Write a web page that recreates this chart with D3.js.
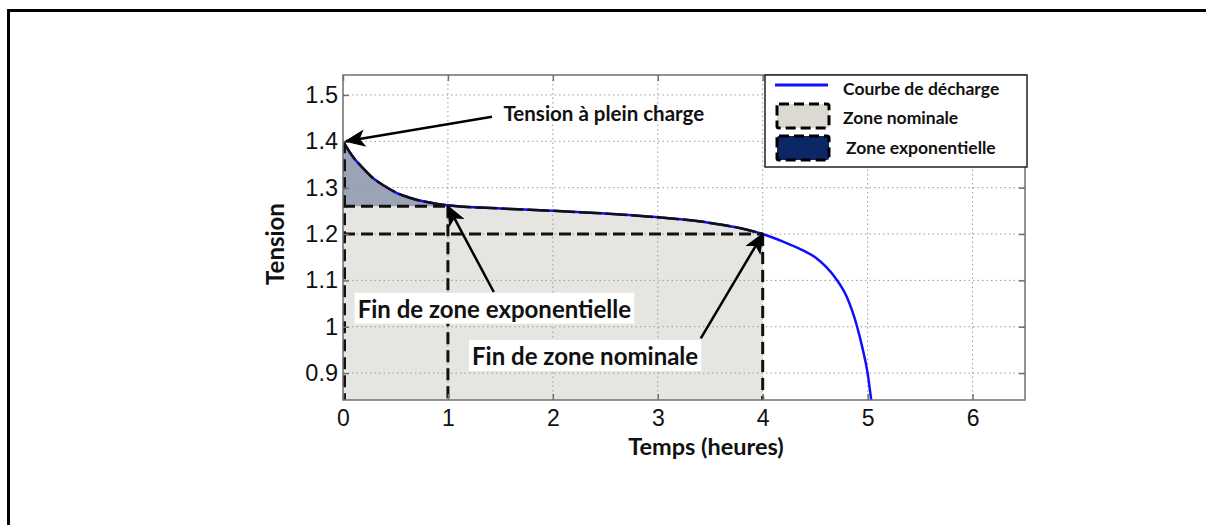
<!DOCTYPE html>
<html>
<head>
<meta charset="utf-8">
<script src="https://cdn.jsdelivr.net/npm/d3@7"></script>
<style>
  html, body { margin: 0; padding: 0; background: #fff; }
  svg { display: block; }
</style>
</head>
<body>
<svg id="chart" width="1206" height="525"></svg>
<script>
// Discharge curve of the cell: time (hours) and voltage
const temps =   [0, 0.1, 0.2, 0.3, 0.4, 0.5, 0.6, 0.7, 0.8, 0.9, 1.0, 1.5, 2.0, 2.5, 3.0, 3.5, 3.8, 4.0, 4.2, 4.4, 4.5, 4.6, 4.7, 4.8, 4.9, 4.95, 5.0, 5.034];
const tension = [1.400, 1.365, 1.340, 1.318, 1.303, 1.290, 1.281, 1.274, 1.269, 1.265, 1.262, 1.255, 1.250, 1.244, 1.236, 1.224, 1.212, 1.200, 1.183, 1.163, 1.150, 1.130, 1.103, 1.065, 1.000, 0.955, 0.900, 0.842];

// Characteristic points
const pleineCharge = { t: 0, v: 1.40 };
const finExpo = { t: 1, v: 1.26 };
const finNominale = { t: 4, v: 1.20 };

// Axis ticks
const xTicks = [0, 1, 2, 3, 4, 5, 6];
const yTicks = [0.9, 1.0, 1.1, 1.2, 1.3, 1.4, 1.5];
const yTickLabels = ["0.9", "1", "1.1", "1.2", "1.3", "1.4", "1.5"];

// Legend entries
const legendLabels = ["Courbe de décharge", "Zone nominale", "Zone exponentielle"];

const svg = d3.select("#chart");
const W = 1206, H = 525;
const plot = { left: 343, right: 1025, top: 75, bottom: 400 };

const x = d3.scaleLinear().domain([0, 6.5]).range([plot.left, plot.right]);
const y = d3.scaleLinear().domain([0.842, 1.543]).range([plot.bottom, plot.top]);

const data = temps.map((t, i) => ({ t, v: tension[i] }));

// Page frame (top and left edges)
svg.append("path")
  .attr("d", `M8.5,${H} V10.5 H${W}`)
  .attr("fill", "none").attr("stroke", "#000").attr("stroke-width", 3);

// Plot background
svg.append("rect")
  .attr("x", plot.left).attr("y", plot.top)
  .attr("width", plot.right - plot.left).attr("height", plot.bottom - plot.top)
  .attr("fill", "#fff");

const defs = svg.append("defs");
defs.append("clipPath").attr("id", "plotclip").append("rect")
  .attr("x", plot.left).attr("y", plot.top)
  .attr("width", plot.right - plot.left).attr("height", plot.bottom - plot.top);

const g = svg.append("g").attr("clip-path", "url(#plotclip)");

// Nominal zone: under the curve up to the end of the nominal zone, capped at the exponential limit
const nominal = data.filter(d => d.t <= finNominale.t)
  .map(d => ({ t: d.t, v: Math.min(d.v, finExpo.v) }));
const area = d3.area().x(d => x(d.t)).y0(y(0.842)).y1(d => y(d.v)).curve(d3.curveMonotoneX);
g.append("path").datum(nominal).attr("d", area).attr("fill", "#e7e5e2");

// Exponential zone: between the curve and the exponential limit
const expo = data.filter(d => d.t <= finExpo.t);
const areaExpo = d3.area().x(d => x(d.t)).y0(y(finExpo.v)).y1(d => y(d.v)).curve(d3.curveMonotoneX);
g.append("path").datum(expo).attr("d", areaExpo).attr("fill", "#9ba3b7");

// Grid
g.selectAll("line.gx").data(xTicks).join("line")
  .attr("x1", d => x(d)).attr("x2", d => x(d))
  .attr("y1", plot.top).attr("y2", plot.bottom)
  .attr("stroke", "#9a9a9a").attr("stroke-width", 1).attr("stroke-dasharray", "1.5,3");
g.selectAll("line.gy").data(yTicks).join("line")
  .attr("y1", d => y(d)).attr("y2", d => y(d))
  .attr("x1", plot.left).attr("x2", plot.right)
  .attr("stroke", "#9a9a9a").attr("stroke-width", 1).attr("stroke-dasharray", "1.5,3");

// Discharge curve
const line = d3.line().x(d => x(d.t)).y(d => y(d.v)).curve(d3.curveMonotoneX);
g.append("path").datum(data).attr("d", line)
  .attr("fill", "none").attr("stroke", "#0f0fff").attr("stroke-width", 2.5);
// Zone boundary
g.append("path").datum(data.filter(d => d.t <= finNominale.t)).attr("d", line)
  .attr("fill", "none").attr("stroke", "#111").attr("stroke-width", 2.5)
  .attr("stroke-dasharray", "22,4");

// Dashed zone limits
const dash = (x1, y1, x2, y2) => g.append("line")
  .attr("x1", x1).attr("y1", y1).attr("x2", x2).attr("y2", y2)
  .attr("stroke", "#111").attr("stroke-width", 3).attr("stroke-dasharray", "12,6");
dash(x(0), y(finExpo.v), x(finExpo.t), y(finExpo.v));
dash(x(finExpo.t), y(finExpo.v), x(finExpo.t), plot.bottom);
dash(x(0), y(finNominale.v), x(finNominale.t), y(finNominale.v));
dash(x(finNominale.t), y(finNominale.v), x(finNominale.t), plot.bottom);
dash(x(0) + 1.5, y(pleineCharge.v), x(0) + 1.5, plot.bottom);

// Axes frame
svg.append("rect")
  .attr("x", plot.left).attr("y", plot.top)
  .attr("width", plot.right - plot.left).attr("height", plot.bottom - plot.top)
  .attr("fill", "none").attr("stroke", "#707070").attr("stroke-width", 1.5);

// Axes with inward ticks
const fmtY = d => yTickLabels[yTicks.indexOf(d)];
const axL = svg.append("g").attr("transform", `translate(${plot.left},0)`)
  .call(d3.axisLeft(y).tickValues(yTicks).tickFormat(fmtY).tickSizeInner(-6).tickSizeOuter(0).tickPadding(5));
const axR = svg.append("g").attr("transform", `translate(${plot.right},0)`)
  .call(d3.axisRight(y).tickValues(yTicks).tickFormat("").tickSizeInner(-6).tickSizeOuter(0));
const axB = svg.append("g").attr("transform", `translate(0,${plot.bottom})`)
  .call(d3.axisBottom(x).tickValues(xTicks).tickFormat(d3.format("d")).tickSizeInner(-6).tickSizeOuter(0).tickPadding(10));
const axT = svg.append("g").attr("transform", `translate(0,${plot.top})`)
  .call(d3.axisTop(x).tickValues(xTicks).tickFormat("").tickSizeInner(-6).tickSizeOuter(0));
[axL, axR, axB, axT].forEach(a => {
  a.select(".domain").remove();
  a.selectAll(".tick line").attr("stroke", "#707070").attr("stroke-width", 1.5);
  a.selectAll("text").attr("font-family", "'Liberation Sans', Arial, sans-serif")
    .attr("font-size", 23.5).attr("fill", "#111");
});
axB.selectAll("text").attr("font-size", 23);

// Axis titles
svg.append("text")
  .attr("x", 706).attr("y", 455)
  .attr("text-anchor", "middle")
  .attr("font-family", "Lato, 'Open Sans', sans-serif").attr("font-weight", "bold")
  .attr("font-size", 23.5).attr("fill", "#111")
  .text("Temps (heures)");
svg.append("text")
  .attr("transform", `translate(284,244) rotate(-90)`)
  .attr("text-anchor", "middle")
  .attr("font-family", "Lato, 'Open Sans', sans-serif").attr("font-weight", "bold")
  .attr("font-size", 24).attr("fill", "#111")
  .text("Tension");

// Arrow head
defs.append("marker")
  .attr("id", "head").attr("viewBox", "0 0 12 10")
  .attr("refX", 11).attr("refY", 5)
  .attr("markerWidth", 8.5).attr("markerHeight", 7)
  .attr("markerUnits", "strokeWidth").attr("orient", "auto")
  .append("path").attr("d", "M0,0 L12,5 L0,10 L3,5 Z").attr("fill", "#000");

const annotations = [
  { label: "Tension à plein charge", size: 20.5, tx: 1.53, tv: 1.461, from: { t: 1.42, v: 1.453 }, to: pleineCharge, box: false },
  { label: "Fin de zone exponentielle", size: 24, tx: 0.14, tv: 1.040, from: { t: 1.437, v: 1.075 }, to: finExpo, box: true },
  { label: "Fin de zone nominale", size: 24, tx: 1.23, tv: 0.938, from: { t: 3.41, v: 0.975 }, to: finNominale, box: true }
];

annotations.forEach(a => {
  const t = svg.append("text")
    .attr("x", x(a.tx)).attr("y", y(a.tv))
    .attr("dominant-baseline", "central")
    .attr("font-family", "Lato, 'Open Sans', sans-serif").attr("font-weight", "bold")
    .attr("font-size", a.size).attr("fill", "#111")
    .text(a.label);
  if (a.box) {
    const bb = t.node().getBBox();
    svg.insert("rect", () => t.node())
      .attr("x", bb.x - 3).attr("y", bb.y - 1)
      .attr("width", bb.width + 6).attr("height", bb.height + 2)
      .attr("fill", "#fff");
  }
  svg.append("line")
    .attr("x1", x(a.from.t)).attr("y1", y(a.from.v))
    .attr("x2", x(a.to.t) + (a.to.t === 0 ? 3 : 0)).attr("y2", y(a.to.v))
    .attr("stroke", "#000").attr("stroke-width", 2.5)
    .attr("marker-end", "url(#head)");
});

// Legend
const lg = svg.append("g").attr("transform", "translate(765,75)");
lg.append("rect").attr("width", 262).attr("height", 92)
  .attr("fill", "#fff").attr("stroke", "#222").attr("stroke-width", 1.5);
lg.append("line").attr("x1", 10).attr("x2", 63).attr("y1", 10).attr("y2", 10)
  .attr("stroke", "#0f0fff").attr("stroke-width", 3);
lg.append("rect").attr("x", 12).attr("y", 29).attr("width", 52).attr("height", 24).attr("rx", 2)
  .attr("fill", "#dcd9d3").attr("stroke", "#000").attr("stroke-width", 3).attr("stroke-dasharray", "10,5");
lg.append("rect").attr("x", 12).attr("y", 61).attr("width", 52).attr("height", 24).attr("rx", 2)
  .attr("fill", "#0c2766").attr("stroke", "#000").attr("stroke-width", 3).attr("stroke-dasharray", "10,5");
lg.selectAll("text.lab").data(legendLabels).join("text")
  .attr("x", (d, i) => i === 2 ? 81 : 78)
  .attr("y", (d, i) => [13, 42, 72][i])
  .attr("dominant-baseline", "central")
  .attr("font-family", "Lato, 'Open Sans', sans-serif").attr("font-weight", "bold")
  .attr("font-size", 17.5).attr("fill", "#111")
  .text(d => d);
</script>
</body>
</html>
